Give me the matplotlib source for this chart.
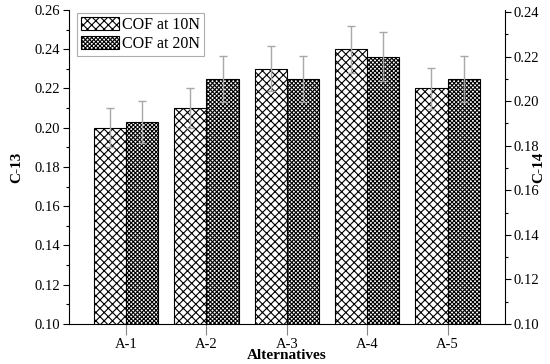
import numpy as np
import matplotlib
matplotlib.use("Agg")
import matplotlib.pyplot as plt
from matplotlib.ticker import MultipleLocator

alternatives = ["A-1", "A-2", "A-3", "A-4", "A-5"]
cof_10n = [0.200, 0.210, 0.230, 0.240, 0.220]
cof_10n_err = [0.010, 0.010, 0.0115, 0.012, 0.0107]
cof_20n = [0.1905, 0.210, 0.210, 0.220, 0.210]
cof_20n_err = [0.0095, 0.0103, 0.0103, 0.011, 0.0103]

plt.rcParams['font.family'] = ['Liberation Serif', 'DejaVu Serif']
plt.rcParams['hatch.linewidth'] = 0.8

fig = plt.figure(figsize=(5.5, 3.64), dpi=100)
ax = fig.add_axes([0.1255, 0.110, 0.792, 0.8625])
ax2 = ax.twinx()

x = np.arange(1, len(alternatives) + 1)
w = 0.4
ebar_kw = dict(ecolor='#a8a8a8', elinewidth=1.0, capsize=3, capthick=1.0)

ax.bar(x - w / 2, cof_10n, w, color='white', edgecolor='black',
       hatch='xxxx', linewidth=0.8, label='COF at 10N', zorder=2)
ax.errorbar(x - w / 2, cof_10n, yerr=cof_10n_err, fmt='none', zorder=3, **ebar_kw)

ax2.bar(x + w / 2, cof_20n, w, color='white', edgecolor='black',
        hatch='xxxxxxxx', linewidth=0.8, label='COF at 20N', zorder=2)
ax2.errorbar(x + w / 2, cof_20n, yerr=cof_20n_err, fmt='none', zorder=3, **ebar_kw)

ax.set_xlim(0.29, 5.71)
ax.set_ylim(0.10, 0.26)
ax2.set_ylim(0.10, 0.2409)

ax.yaxis.set_major_locator(MultipleLocator(0.02))
ax.yaxis.set_minor_locator(MultipleLocator(0.01))
ax2.yaxis.set_major_locator(MultipleLocator(0.02))
ax2.yaxis.set_minor_locator(MultipleLocator(0.01))
ax.yaxis.set_major_formatter(plt.FormatStrFormatter('%.2f'))
ax2.yaxis.set_major_formatter(plt.FormatStrFormatter('%.2f'))

ax.set_xticks(x)
ax.set_xticklabels(alternatives)

for a in (ax, ax2):
    a.spines['top'].set_visible(False)
    a.tick_params(axis='both', which='major', direction='out', length=4.5,
                  width=0.8, labelsize=10.5, pad=2)
    a.tick_params(axis='both', which='minor', direction='out', length=2.5, width=0.8)
ax.tick_params(axis='x', which='major', length=8, colors='#888888', labelcolor='black')
ax.spines['right'].set_visible(False)
ax2.spines['left'].set_visible(False)
ax2.spines['bottom'].set_visible(False)

ax.set_ylabel('C-13', fontsize=11, fontweight='bold', labelpad=8)
ax.set_xlabel('Alternatives', fontsize=11, fontweight='bold', labelpad=-1)
ax2.set_ylabel('C-14', fontsize=11, fontweight='bold', rotation=90, labelpad=-5)

h1, l1 = ax.get_legend_handles_labels()
h2, l2 = ax2.get_legend_handles_labels()
leg = ax2.legend(h1 + h2, l1 + l2, loc='upper left', bbox_to_anchor=(0.01, 1.0),
                 fontsize=11.5, frameon=True, fancybox=False, edgecolor='#999999',
                 handlelength=2.4, handleheight=0.9, handletextpad=0.2,
                 borderpad=0.25, labelspacing=0.15, borderaxespad=0.2)
leg.get_frame().set_linewidth(0.8)

fig.savefig('out.png', dpi=100)
